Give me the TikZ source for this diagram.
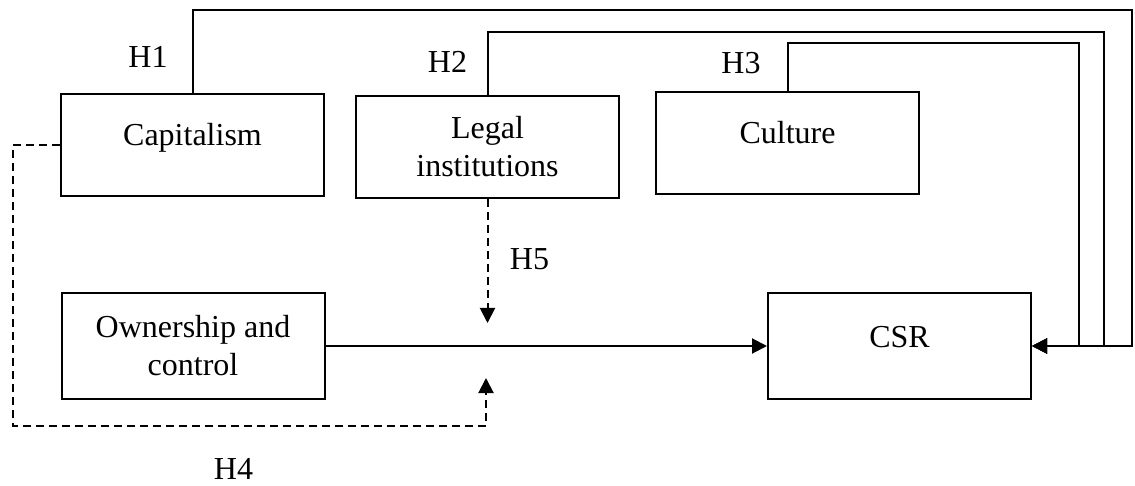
\documentclass[tikz,border=0pt]{standalone}
\usepackage{fontspec}
\setmainfont{Liberation Serif}
\usetikzlibrary{arrows.meta}
\tikzset{
  txt/.style={font=\fontsize{32}{38}\selectfont, inner sep=0pt},
  box/.style={draw, line width=2pt, minimum width=263pt, minimum height=102pt, align=center, font=\fontsize{32}{38}\selectfont, inner sep=0pt},
  boxone/.style={box, text height=22pt, text depth=20pt},
  conn/.style={line width=2pt, -{Triangle[length=15pt,width=15pt]}},
  dconn/.style={conn, dash pattern=on 8pt off 5pt},
}
\begin{document}
\begin{tikzpicture}[x=1pt, y=-1pt]
\useasboundingbox (0,0) rectangle (1135,486);
\node[boxone] (cap) at (192.5,145) {Capitalism};
\node[box] (legal) at (487.5,147) {Legal\\institutions};
\node[boxone] (cult) at (787.5,143) {Culture};
\node[box, minimum height=106pt] (own) at (193,346) {Ownership and\\control};
\node[boxone, minimum height=106pt] (csr) at (899.5,346) {CSR};

\node[txt] (h1) at (148,56.5) {H1};
\node[txt] (h2) at (447.5,62) {H2};
\node[txt] (h3) at (741,63.5) {H3};
\node[txt] (h5) at (529.5,259) {H5};
\node[txt] (h4) at (233.5,468.5) {H4};

\coordinate (t1) at (1132,10);
\coordinate (t2) at (1104,32);
\coordinate (t3) at (1079,43);
\coordinate (m5) at (486,323);
\coordinate (c4) at (13,426);
\coordinate (m4) at (486,378);

\draw[conn] (cap.north) |- (t1) |- (csr.east);
\draw[conn] (legal.north) |- (t2) |- (csr.east);
\draw[conn] (cult.north) |- (t3) |- (csr.east);
\draw[conn] (own.east) -- (csr.west);
\draw[dconn] (legal.south) -- (legal.south |- m5);
\draw[dconn] (cap.west) -| (c4) -| (m4);
\end{tikzpicture}
\end{document}
